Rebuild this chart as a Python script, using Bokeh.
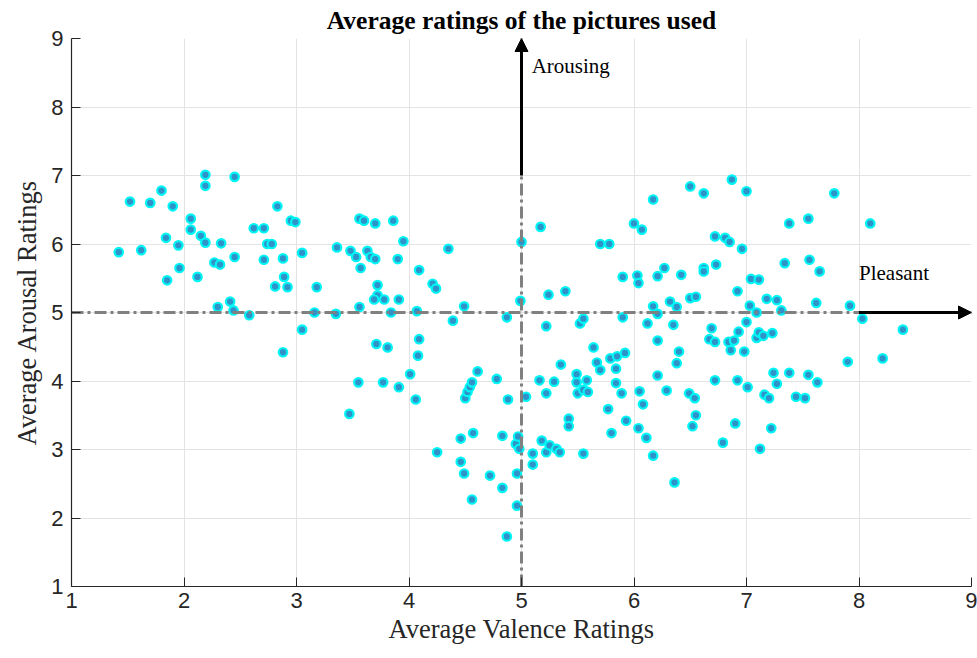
from bokeh.plotting import figure
from bokeh.models import Arrow, NormalHead, Label, Range1d, FixedTicker, ColumnDataSource
from bokeh.embed import file_html
from bokeh.resources import INLINE

# Average ratings per picture (valence, arousal)
valence = [
    1.42, 1.52, 1.62, 1.70, 1.80, 1.84, 1.85, 1.90, 1.95, 1.96,
    2.06, 2.06, 2.12, 2.15, 2.19, 2.19, 2.19, 2.27, 2.32, 2.33,
    2.30, 2.41, 2.44, 2.45, 2.45, 2.58, 2.62, 2.71, 2.71, 2.74,
    2.78, 2.81, 2.83, 2.88, 2.89, 2.92, 2.88, 2.95, 2.99, 3.05,
    3.05, 3.18, 3.16, 3.36, 3.35, 3.47, 3.48, 3.53, 3.56, 3.60,
    3.56, 3.55, 3.57, 3.63, 3.66, 3.70, 3.70, 3.72, 3.72, 3.69,
    3.78, 3.71, 3.77, 3.81, 3.84, 3.86, 3.90, 3.91, 3.91, 3.95,
    4.01, 4.06, 4.07, 4.08, 4.09, 4.09, 4.21, 4.24, 4.25, 4.35,
    4.39, 4.49, 4.46, 4.46, 4.49, 4.50, 4.52, 4.54, 4.56, 4.56,
    4.57, 4.61, 4.72, 4.78, 4.83, 4.83, 4.87, 4.87, 4.88, 4.95,
    4.96, 4.96, 4.97, 4.98, 4.99, 5.00, 5.04, 5.10, 5.10, 5.16,
    5.17, 5.18, 5.22, 5.22, 5.22, 5.24, 5.25, 5.29, 5.31, 5.34,
    5.35, 5.39, 5.42, 5.42, 5.49, 5.49, 5.50, 5.52, 5.55, 5.55,
    5.55, 5.58, 5.59, 5.64, 5.67, 5.70, 5.70, 5.77, 5.78, 5.79,
    5.80, 5.84, 5.84, 5.85, 5.89, 5.90, 5.90, 5.92, 5.93, 6.00,
    6.03, 6.04, 6.04, 6.05, 6.07, 6.08, 6.11, 6.12, 6.17, 6.17,
    6.17, 6.21, 6.21, 6.21, 6.21, 6.27, 6.29, 6.32, 6.35, 6.36,
    6.38, 6.38, 6.40, 6.42, 6.49, 6.50, 6.50, 6.52, 6.54, 6.55,
    6.55, 6.62, 6.62, 6.62, 6.67, 6.69, 6.72, 6.72, 6.72, 6.73,
    6.79, 6.81, 6.84, 6.85, 6.86, 6.87, 6.89, 6.90, 6.92, 6.92,
    6.93, 6.96, 6.98, 7.00, 7.00, 7.01, 7.03, 7.04, 7.09, 7.09,
    7.11, 7.11, 7.15, 7.23, 7.12, 7.16, 7.18, 7.20, 7.22, 7.24,
    7.27, 7.27, 7.31, 7.34, 7.38, 7.38, 7.44, 7.52, 7.55, 7.55,
    7.56, 7.62, 7.63, 7.65, 7.78, 7.90, 7.92, 8.03, 8.10, 8.21,
    8.39,
]
arousal = [
    5.88, 6.62, 5.91, 6.60, 6.78, 6.09, 5.47, 6.55, 5.98, 5.65,
    6.37, 6.21, 5.52, 6.12, 7.01, 6.85, 6.02, 5.73, 5.70, 6.01,
    5.08, 5.16, 5.03, 6.98, 5.81, 4.96, 6.23, 6.23, 5.77, 6.00,
    6.00, 5.38, 6.55, 5.79, 5.52, 5.37, 4.42, 6.34, 6.32, 5.87,
    4.75, 5.37, 5.00, 5.95, 4.98, 3.52, 5.90, 5.81, 6.37, 6.34,
    5.08, 3.98, 5.65, 5.90, 5.81, 5.78, 6.30, 5.40, 5.25, 5.19,
    5.19, 4.54, 3.98, 4.49, 5.00, 6.34, 5.78, 5.19, 3.91, 6.04,
    4.10, 3.73, 5.02, 4.37, 4.61, 5.62, 5.42, 5.35, 2.96, 5.93,
    4.88, 5.09, 3.16, 2.82, 2.65, 3.75, 3.84, 3.91, 3.98, 2.27,
    3.24, 4.14, 2.62, 4.03, 3.20, 2.44, 4.93, 1.73, 3.73, 3.08,
    2.65, 2.18, 3.19, 3.01, 5.17, 6.03, 3.77, 2.94, 2.78, 4.01,
    6.25, 3.13, 4.80, 3.82, 2.96, 5.26, 3.06, 3.99, 3.01, 2.96,
    4.24, 5.31, 3.45, 3.34, 4.10, 3.98, 3.82, 4.84, 4.91, 3.87,
    2.94, 4.01, 3.84, 4.49, 4.27, 4.16, 6.00, 3.59, 6.00, 4.33,
    3.24, 4.18, 3.97, 4.36, 3.82, 5.52, 4.93, 4.41, 3.42, 6.30,
    5.54, 5.43, 3.31, 3.85, 6.21, 3.66, 3.17, 4.84, 6.65, 5.09,
    2.91, 5.53, 4.98, 4.59, 4.08, 5.65, 3.86, 5.16, 4.82, 2.52,
    5.08, 4.26, 4.43, 5.55, 3.82, 6.84, 5.21, 3.34, 3.75, 5.23,
    3.50, 6.74, 5.65, 5.60, 4.61, 4.77, 6.11, 4.57, 4.01, 5.70,
    3.10, 6.09, 4.57, 6.03, 4.45, 6.94, 4.59, 3.38, 5.31, 4.01,
    4.72, 5.93, 4.43, 6.77, 4.86, 3.91, 5.10, 5.49, 5.00, 4.63,
    5.48, 4.71, 4.66, 4.70, 3.01, 3.80, 5.20, 3.75, 3.31, 4.12,
    5.18, 3.96, 5.03, 5.72, 6.30, 4.12, 3.77, 3.75, 6.37, 4.09,
    5.77, 5.14, 3.98, 5.60, 6.74, 4.28, 5.10, 4.91, 6.30, 4.33,
    4.75,
]

x_ticks = [1, 2, 3, 4, 5, 6, 7, 8, 9]
y_ticks = [1, 2, 3, 4, 5, 6, 7, 8, 9]
scale_min, scale_max = 1, 9
neutral_valence = 5
neutral_arousal = 5
arousing_arrow_start = 7
pleasant_arrow_start = 8

title_text = "Average ratings of the pictures used"
x_label = "Average Valence Ratings"
y_label = "Average Arousal Ratings"

p = figure(width=977, height=658,
           x_range=Range1d(scale_min, scale_max),
           y_range=Range1d(scale_min, scale_max),
           output_backend="svg", toolbar_location=None,
           min_border_left=71, min_border_right=6,
           min_border_top=38, min_border_bottom=72)

p.background_fill_color = "white"
p.border_fill_color = "white"
p.outline_line_color = None

p.title.text = title_text
p.title.align = "center"
p.title.text_font = "Liberation Serif"
p.title.text_font_style = "bold"
p.title.text_font_size = "25.5px"
p.title.text_color = "black"
p.title.standoff = 7

for ax, ticks in ((p.xaxis, x_ticks), (p.yaxis, y_ticks)):
    ax.ticker = FixedTicker(ticks=ticks)
    ax.axis_line_color = "#262626"
    ax.axis_line_width = 1.2
    ax.major_tick_in = 9
    ax.major_tick_out = 0
    ax.major_tick_line_color = "#262626"
    ax.minor_tick_line_color = None
    ax.major_label_text_font = "Liberation Sans"
    ax.major_label_text_font_size = "22px"
    ax.major_label_text_color = "#262626"
    ax.axis_label_text_font = "Liberation Serif"
    ax.axis_label_text_font_size = "26.5px"
    ax.axis_label_text_font_style = "normal"
    ax.axis_label_text_color = "#262626"

p.xaxis.axis_label = x_label
p.yaxis.axis_label = y_label
p.xaxis.major_label_standoff = 6
p.yaxis.major_label_standoff = 8
p.xaxis.axis_label_standoff = 3
p.yaxis.axis_label_standoff = 6

p.grid.grid_line_color = "#e3e3e3"
p.grid.grid_line_width = 1

src = ColumnDataSource(dict(v=valence, a=arousal))
p.scatter("v", "a", source=src, size=8.5, fill_color="#2f93c9",
          line_color="#00f5f5", line_width=2.2)

# neutral reference lines
p.line([neutral_valence, neutral_valence], [scale_min, arousing_arrow_start],
       line_color="#808080", line_width=3, line_dash="12 4 3 4")
p.line([scale_min, pleasant_arrow_start], [neutral_arousal, neutral_arousal],
       line_color="#808080", line_width=3, line_dash="12 4 3 4")

p.add_layout(Arrow(end=NormalHead(size=13, fill_color="black", line_color="black"),
                   x_start=neutral_valence, y_start=arousing_arrow_start,
                   x_end=neutral_valence, y_end=scale_max,
                   line_color="black", line_width=3))
p.add_layout(Arrow(end=NormalHead(size=13, fill_color="black", line_color="black"),
                   x_start=pleasant_arrow_start, y_start=neutral_arousal,
                   x_end=scale_max, y_end=neutral_arousal,
                   line_color="black", line_width=3))

p.add_layout(Label(x=5.09, y=8.6, text="Arousing", text_font="Liberation Serif",
                   text_font_size="21px", text_baseline="middle", text_color="black"))
p.add_layout(Label(x=8.0, y=5.58, text="Pleasant", text_font="Liberation Serif",
                   text_font_size="21px", text_baseline="middle", text_color="black"))

open("out.html", "w").write(file_html(p, INLINE))
